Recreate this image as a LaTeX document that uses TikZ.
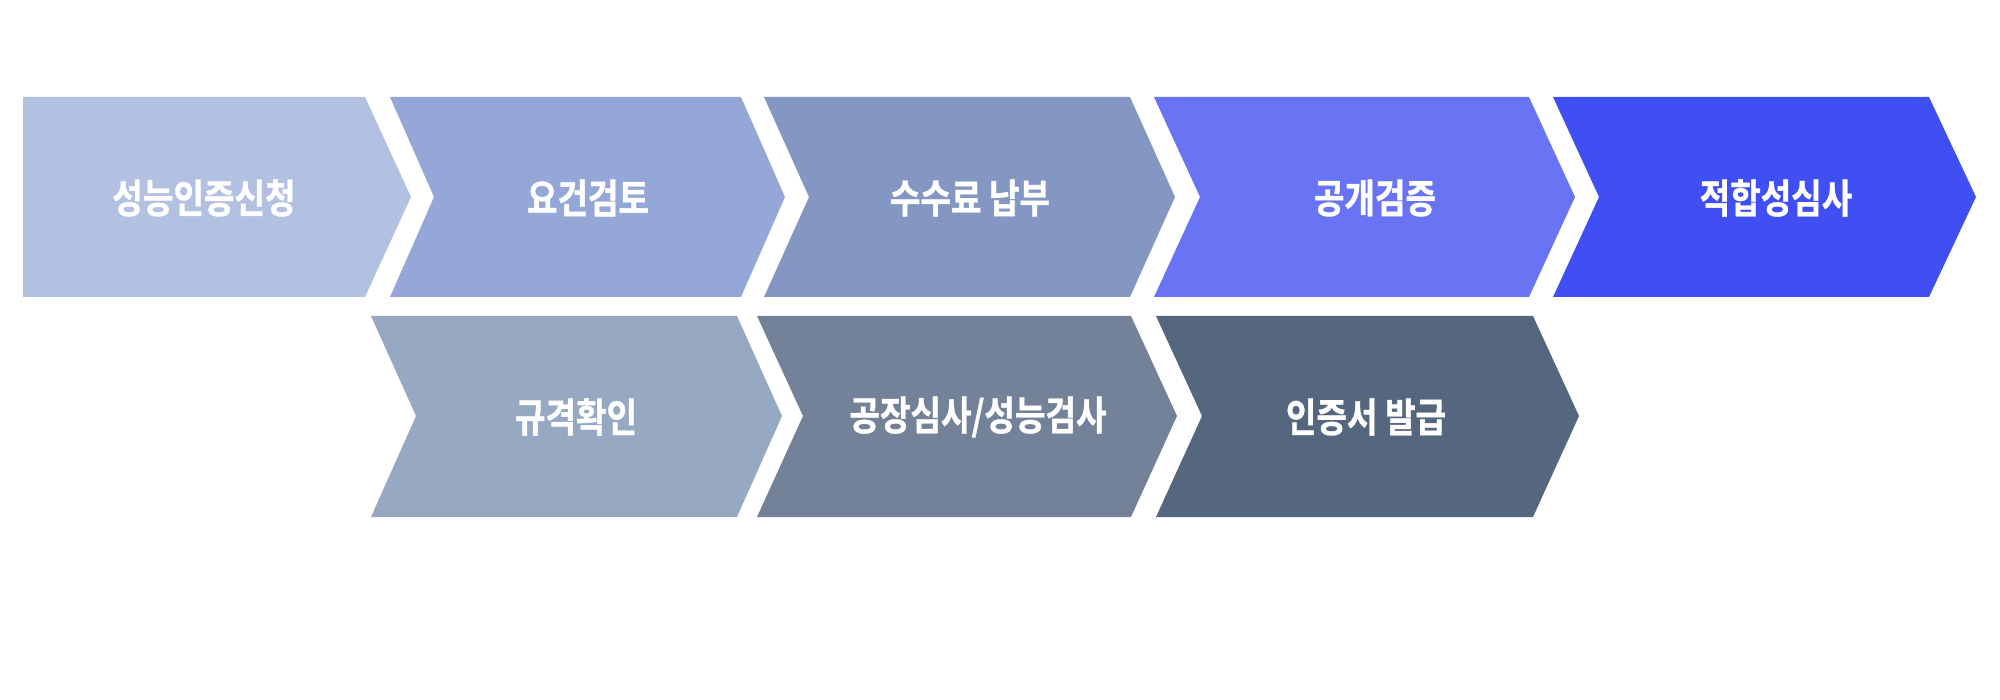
\documentclass[tikz,border=0pt]{standalone}
\usepackage{fontspec}
\newfontfamily\krb{Noto Sans CJK KR Bold}[FakeStretch=0.83,FakeBold=1]
\definecolor{c1}{HTML}{B2C0E2}
\definecolor{c2}{HTML}{94A7D6}
\definecolor{c3}{HTML}{8497C3}
\definecolor{c4}{HTML}{6874F4}
\definecolor{c5}{HTML}{3F4FF3}
\definecolor{c6}{HTML}{97A8C2}
\definecolor{c7}{HTML}{738299}
\definecolor{c8}{HTML}{55677F}
\begin{document}
\begin{tikzpicture}[x=1pt,y=-1pt,
  lbl/.style={text=white,inner sep=0pt,font=\krb\fontsize{40}{40}\selectfont}]
\useasboundingbox (0,0) rectangle (2000,700);
\fill[white] (0,0) rectangle (2000,700);
% row 1
\fill[c1] (23,97) -- (365,97) -- (411,197) -- (365,297) -- (23,297) -- cycle;
\fill[c2] (390,97) -- (741,97) -- (785,197) -- (741,297) -- (390,297) -- (434,197) -- cycle;
\fill[c3] (764,97) -- (1130,97) -- (1175,197) -- (1130,297) -- (764,297) -- (809,197) -- cycle;
\fill[c4] (1154,97) -- (1529,97) -- (1575,197) -- (1529,297) -- (1154,297) -- (1200,197) -- cycle;
\fill[c5] (1553,97) -- (1929,97) -- (1976,197) -- (1929,297) -- (1553,297) -- (1599,197) -- cycle;
% row 2
\fill[c6] (371,316) -- (737,316) -- (782,416) -- (737,517) -- (371,517) -- (416,416) -- cycle;
\fill[c7] (757,316) -- (1131,316) -- (1177,416) -- (1131,517) -- (757,517) -- (803,416) -- cycle;
\fill[c8] (1156,316) -- (1533,316) -- (1579,416) -- (1533,517) -- (1156,517) -- (1202,416) -- cycle;
% labels
\node[lbl] (t1) at (204,198) {성능인증신청};
\node[lbl] (t2) at (588,198) {요건검토};
\node[lbl] (t3) at (970,198) {수수료 납부};
\node[lbl] (t4) at (1375,198) {공개검증};
\node[lbl] (t5) at (1776,198) {적합성심사};
\node[lbl] (t6) at (576,417) {규격확인};
\node[lbl] (t7) at (978,417) {공장심사/성능검사};
\node[lbl] (t8) at (1366,417) {인증서 발급};
\end{tikzpicture}
\end{document}
